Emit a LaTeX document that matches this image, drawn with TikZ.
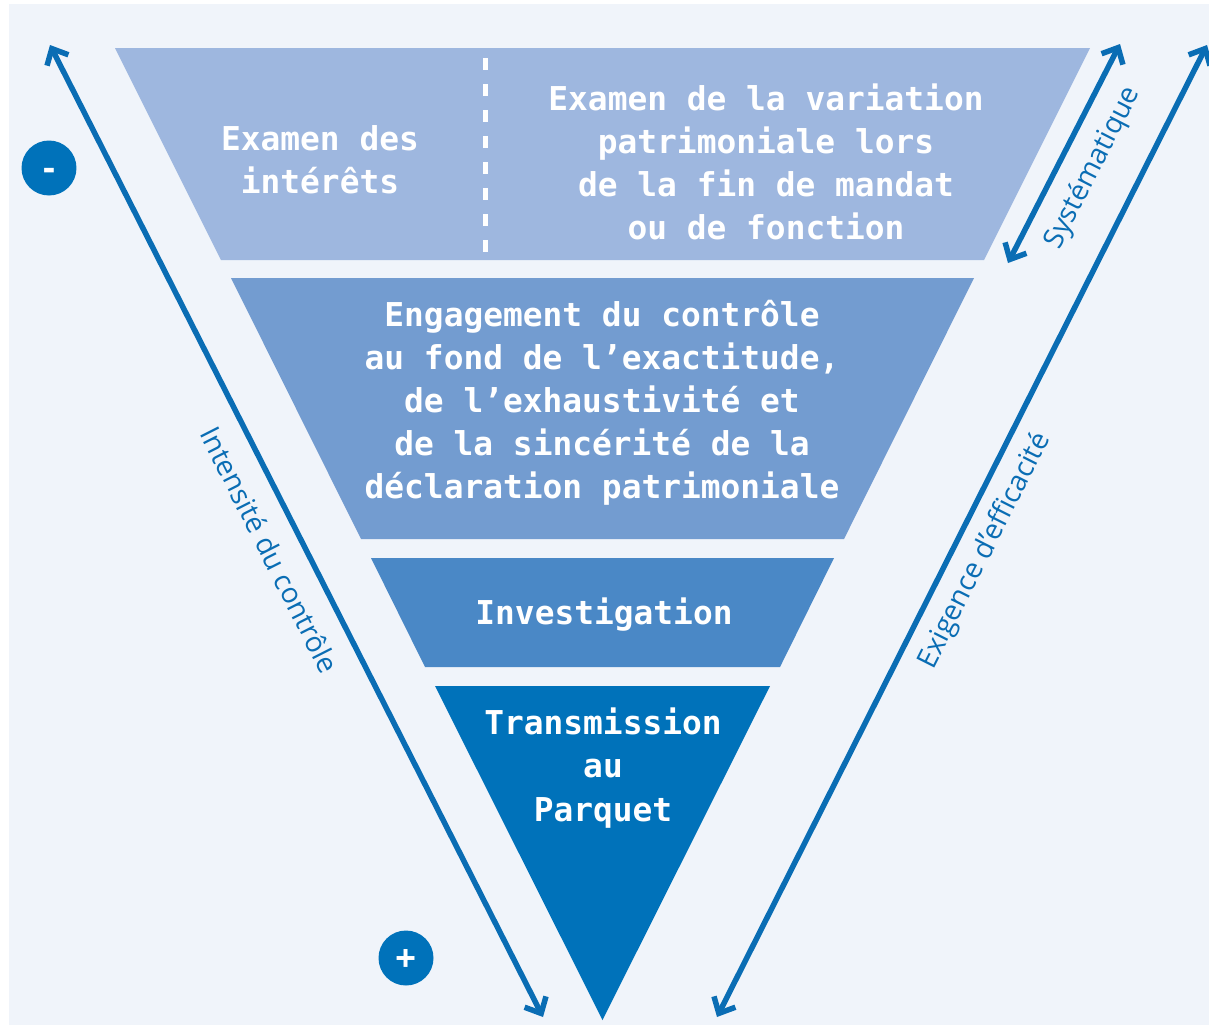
\documentclass[tikz,border=0pt]{standalone}
\usepackage{fontspec}
\usetikzlibrary{arrows.meta,calc}
\newfontfamily\bandfont{DejaVu Sans Mono}
\newfontfamily\sidefont{Open Sans}
\definecolor{bgpale}{HTML}{F0F4FA}
\definecolor{bandone}{HTML}{9EB7DF}
\definecolor{bandtwo}{HTML}{739CD0}
\definecolor{bandthree}{HTML}{4A88C6}
\definecolor{bandfour}{HTML}{0072BA}
\definecolor{arrowblue}{HTML}{0A6DB4}
\tikzset{
  bandtext/.style={text=white, align=center, inner sep=0pt,
    font=\bandfont\bfseries\fontsize{18.7}{24.5}\selectfont},
  sidetext/.style={text=arrowblue, inner sep=0pt,
    font=\sidefont\fontsize{16}{19}\selectfont},
  signdot/.style={circle, fill=bandfour, text=white, minimum size=1.1cm, inner sep=0pt,
    text depth=0pt, font=\sidefont\bfseries\fontsize{21}{21}\selectfont},
  dblarrow/.style={draw=arrowblue, line width=1.1mm,
    {Straight Barb[length=2.6mm,width=4.8mm]}-{Straight Barb[length=2.6mm,width=4.8mm]}}
}

\begin{document}
\begin{tikzpicture}[x=0.02cm, y=-0.02cm]
			%%%%% START %%%%%
			
			\fill[white] (0, 0) rectangle (1209, 1025);
			\useasboundingbox (0, 0) rectangle (1209, 1025);
			\fill[bgpale] (9, 4) rectangle (1209, 1025);
			
			% the four bands of the funnel
			\fill[bandone] (115, 48) -- (1090, 48) -- (984, 260) -- (221, 260) -- cycle;
			\fill[bandtwo] (231, 278) -- (974, 278) -- (844, 539) -- (361, 539) -- cycle;
			\fill[bandthree] (371, 558) -- (834, 558) -- (780, 667) -- (425, 667) -- cycle;
			\fill[bandfour] (435, 686) -- (770, 686) -- (602.5, 1020) -- cycle;
			
			\draw[white, line width=1mm, dash pattern=on 2.4mm off 2.8mm] (485, 58) -- (485, 252);
			
			\node[bandtext] (interets) at (320, 160) {Examen des\\intérêts};
			\node[bandtext] (variation) at (766, 162) {Examen de la variation\\patrimoniale lors\\de la fin de mandat\\ou de fonction};
			\node[bandtext] (controle) at (602, 403) {Engagement du contrôle\\au fond de l’exactitude,\\de l’exhaustivité et\\de la sincérité de la\\déclaration patrimoniale};
			\node[bandtext] (investigation) at (604, 615) {Investigation};
			\node[bandtext] (parquet) at (603, 768) {Transmission\\au\\Parquet};
			
			% side arrows
			\coordinate (lefttop) at (50, 45);
			\coordinate (leftbot) at (543, 1017);
			\coordinate (systop) at (1120, 44);
			\coordinate (sysbot) at (1008, 263);
			\coordinate (efftop) at (1207, 45);
			\coordinate (effbot) at (717, 1017);
			
			\draw[dblarrow] (lefttop) -- (leftbot);
			\draw[dblarrow] (sysbot) -- (systop);
			\draw[dblarrow] (effbot) -- (efftop);
			
			\node[sidetext, rotate=-63.1] (intensite) at (270, 550) {Intensité du contrôle};
			\node[sidetext, rotate=62.9] (systematique) at (1093, 168) {Systématique};
			\node[sidetext, rotate=63.2] (efficacite) at (985, 551) {Exigence d’efficacité};
			
			\node[signdot, text height=14pt] (moins) at (49, 168) {-};
			\node[signdot, text height=15pt] (plus) at (406, 958) {+};
			
			%%%%% END %%%%%
\end{tikzpicture}
\end{document}
